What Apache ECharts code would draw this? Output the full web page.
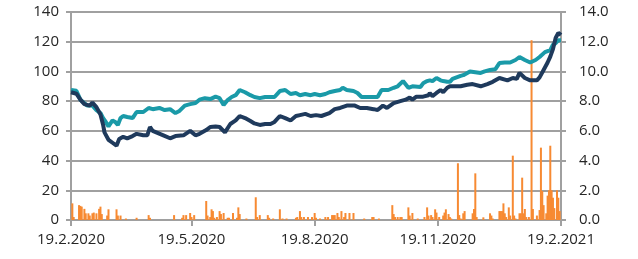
<!DOCTYPE html>
<html>
<head>
<meta charset="utf-8">
<script src="https://cdn.jsdelivr.net/npm/echarts@6/dist/echarts.min.js"></script>
<style>
  html, body { margin: 0; padding: 0; background: #fff; }
  #chart { width: 638px; height: 259px; }
</style>
</head>
<body>
<div id="chart"></div>
<script>
// x values are days counted from 19.2.2020
const startDate = new Date(2020, 1, 19)
const tickDays = [0, 90, 182, 274, 366]

const navyDays = [0, 4, 7, 10, 14, 16, 19, 22, 24, 25, 28, 31, 34, 36, 39, 42, 46, 49, 54, 57, 59, 61, 65, 69, 74, 78, 84, 89, 93, 96, 101, 104, 108, 111, 115, 119, 123, 126, 130, 134, 137, 141, 145, 149, 152, 156, 160, 164, 168, 171, 175, 179, 183, 187, 193, 197, 201, 206, 212, 216, 221, 226, 229, 233, 236, 241, 246, 250, 253, 255, 258, 263, 267, 268, 270, 273, 276, 278, 281, 283, 291, 296, 300, 306, 311, 315, 320, 326, 330, 333, 335, 339, 343, 348, 350, 353, 356, 358, 360, 362, 364, 366]
const navyVals = [86, 85, 81, 78, 77, 79, 76, 71, 64, 59, 54, 52, 50, 54.5, 56, 55, 56.5, 58, 57, 57, 62.6, 60, 58.5, 57, 55, 56.5, 57, 60, 57, 58, 60.5, 62.6, 63, 62.6, 59, 64.6, 67, 70, 68.6, 66.6, 65, 64, 64.6, 64.6, 66, 70, 68.6, 67, 70, 70.6, 71.4, 70, 70.6, 70, 72, 74.6, 75.4, 77, 77, 75.4, 75.4, 74.6, 74, 77, 75.4, 78.7, 80, 81, 82.5, 81, 83, 83, 84, 85.5, 83.4, 85.5, 87.5, 86, 89, 90, 90, 91, 91.5, 90, 91.5, 93, 95.6, 94, 95.6, 95, 99, 95.6, 94, 94, 96, 101, 106, 110, 115, 122.5, 126, 124.5]

const tealDays = [0, 4, 7, 12, 16, 19, 22, 24, 26, 28, 31, 33, 35, 37, 39, 42, 46, 49, 54, 58, 61, 66, 70, 74, 78, 81, 85, 89, 93, 96, 100, 104, 108, 111, 114, 117, 120, 123, 126, 130, 134, 137, 141, 145, 149, 152, 156, 160, 164, 168, 171, 175, 179, 182, 186, 190, 193, 197, 201, 203, 206, 211, 214, 217, 223, 229, 232, 237, 241, 244, 248, 252, 255, 261, 263, 266, 268, 270, 273, 276, 278, 281, 283, 285, 288, 291, 293, 296, 298, 302, 306, 309, 313, 317, 320, 324, 328, 332, 335, 339, 343, 347, 350, 354, 358, 360, 362, 364, 366]
const tealVals = [87.5, 87, 81, 77, 77, 74, 72, 68.6, 66, 63, 67, 66, 64, 68.6, 70, 69.3, 68.6, 72.7, 72.7, 75.4, 74.6, 75.4, 74, 74.6, 72, 73.4, 77, 78, 78.7, 81, 82, 81.4, 83, 82, 77.4, 80.7, 82.8, 84, 87.5, 86, 84, 82.8, 82, 82.8, 82.8, 82.8, 86.8, 87.5, 84.8, 85.5, 84, 84.8, 84, 84.8, 84, 84.8, 86, 86.8, 87.5, 89, 87.5, 86.8, 85.5, 82.8, 82.8, 82.8, 87.5, 87.5, 89, 90, 93.5, 89, 90, 89.5, 92, 93.5, 94, 93.5, 95.6, 94, 93.5, 93, 93, 95, 96, 97, 97.5, 99, 100, 99.5, 99, 100, 101, 101.5, 105.6, 106, 106, 107.7, 109.7, 107.7, 106, 107.7, 109.7, 113, 114.4, 118, 119, 121, 121]

const barDays = [1, 2, 6, 7, 8, 10, 11, 13, 14, 16, 17, 19, 21, 22, 23, 27, 28, 34, 35, 37, 41, 49, 58, 59, 77, 83, 84, 86, 89, 90, 92, 101, 102, 104, 105, 106, 107, 109, 111, 112, 114, 117, 118, 121, 124, 125, 126, 131, 138, 139, 141, 147, 148, 151, 156, 158, 161, 168, 169, 171, 172, 174, 177, 180, 182, 183, 186, 190, 192, 195, 196, 197, 199, 200, 202, 204, 205, 208, 211, 219, 225, 226, 230, 240, 241, 242, 244, 246, 247, 252, 253, 255, 259, 264, 266, 267, 269, 270, 272, 273, 275, 278, 279, 280, 282, 283, 284, 289, 290, 291, 293, 294, 300, 301, 302, 303, 308, 313, 314, 315, 320, 321, 322, 323, 324, 325, 327, 328, 330, 331, 332, 335, 336, 337, 338, 339, 340, 342, 344, 345, 348, 350, 351, 352, 353, 355, 356, 357, 358, 359, 360, 361, 363, 364, 365]
const barVals = [1.12, 0.2, 1.0, 0.95, 0.9, 0.75, 0.45, 0.45, 0.3, 0.45, 0.5, 0.45, 0.75, 0.9, 0.4, 0.3, 0.72, 0.72, 0.3, 0.3, 0.1, 0.15, 0.33, 0.15, 0.33, 0.15, 0.33, 0.33, 0.47, 0.2, 0.33, 1.28, 0.3, 0.2, 0.72, 0.6, 0.15, 0.2, 0.6, 0.4, 0.47, 0.15, 0.15, 0.47, 0.15, 0.85, 0.4, 0.1, 1.53, 0.2, 0.33, 0.33, 0.15, 0.1, 0.72, 0.1, 0.1, 0.15, 0.2, 0.6, 0.2, 0.2, 0.2, 0.2, 0.47, 0.15, 0.1, 0.2, 0.2, 0.33, 0.33, 0.33, 0.47, 0.2, 0.6, 0.2, 0.47, 0.47, 0.47, 0.1, 0.2, 0.2, 0.1, 1.0, 0.4, 0.2, 0.2, 0.2, 0.2, 0.85, 0.3, 0.47, 0.1, 0.2, 0.85, 0.3, 0.33, 0.2, 0.72, 0.5, 0.2, 0.3, 0.5, 0.72, 0.4, 0.2, 0.1, 3.82, 0.33, 0.1, 0.45, 0.6, 0.45, 0.74, 3.14, 0.2, 0.18, 0.45, 0.3, 0.1, 0.6, 0.6, 0.6, 1.12, 0.45, 0.2, 0.85, 0.3, 4.33, 0.3, 0.1, 0.45, 0.45, 2.85, 0.45, 0.74, 0.2, 0.2, 12.1, 0.74, 0.3, 0.67, 4.87, 1.95, 1.0, 0.45, 1.64, 2.0, 5.0, 2.0, 1.5, 0.8, 2.0, 1.5, 0.6]

const zip = (xs, ys) => xs.map((x, i) => [x, ys[i]])

function dayLabel(d) {
  const t = new Date(startDate.getTime())
  t.setDate(t.getDate() + d)
  return `${t.getDate()}.${t.getMonth() + 1}.${t.getFullYear()}`
}

const chart = echarts.init(document.getElementById('chart'))

const labelStyle = { color: '#262626', fontSize: 15, fontFamily: 'Open Sans' }
const axisGray = '#a0a0a0'

chart.setOption({
  animation: false,
  grid: { left: 71, right: 77, top: 12, bottom: 39 },
  xAxis: {
    type: 'value',
    min: 0,
    max: 366,
    axisLine: { lineStyle: { color: axisGray, width: 2 } },
    axisTick: { customValues: tickDays, length: 6, lineStyle: { color: axisGray, width: 2 } },
    axisLabel: { ...labelStyle, customValues: tickDays, margin: 12, formatter: (v) => dayLabel(v) },
    splitLine: { show: false },
  },
  yAxis: [
    {
      type: 'value',
      min: 0,
      max: 140,
      interval: 20,
      axisLine: { show: true, lineStyle: { color: axisGray, width: 2 } },
      axisTick: { show: true, length: 5, lineStyle: { color: axisGray, width: 2 } },
      axisLabel: { ...labelStyle, margin: 12 },
      splitLine: { lineStyle: { color: axisGray, width: 2 } },
    },
    {
      type: 'value',
      min: 0,
      max: 14,
      interval: 2,
      axisLine: { show: true, lineStyle: { color: axisGray, width: 2 } },
      axisTick: { show: true, length: 5, lineStyle: { color: axisGray, width: 2 } },
      axisLabel: { ...labelStyle, margin: 18, formatter: (v) => v.toFixed(1) },
      splitLine: { show: false },
    },
  ],
  series: [
    {
      name: 'volume',
      type: 'bar',
      yAxisIndex: 1,
      barWidth: 2,
      data: zip(barDays, barVals),
      itemStyle: { color: '#f78a32' },
      z: 1,
    },
    {
      name: 'teal',
      type: 'line',
      data: zip(tealDays, tealVals),
      showSymbol: false,
      lineStyle: { color: '#1a9aa8', width: 4 },
      z: 3,
    },
    {
      name: 'navy',
      type: 'line',
      data: zip(navyDays, navyVals),
      showSymbol: false,
      lineStyle: { color: '#1f3a5c', width: 4 },
      z: 4,
    },
  ],
})
</script>
</body>
</html>
